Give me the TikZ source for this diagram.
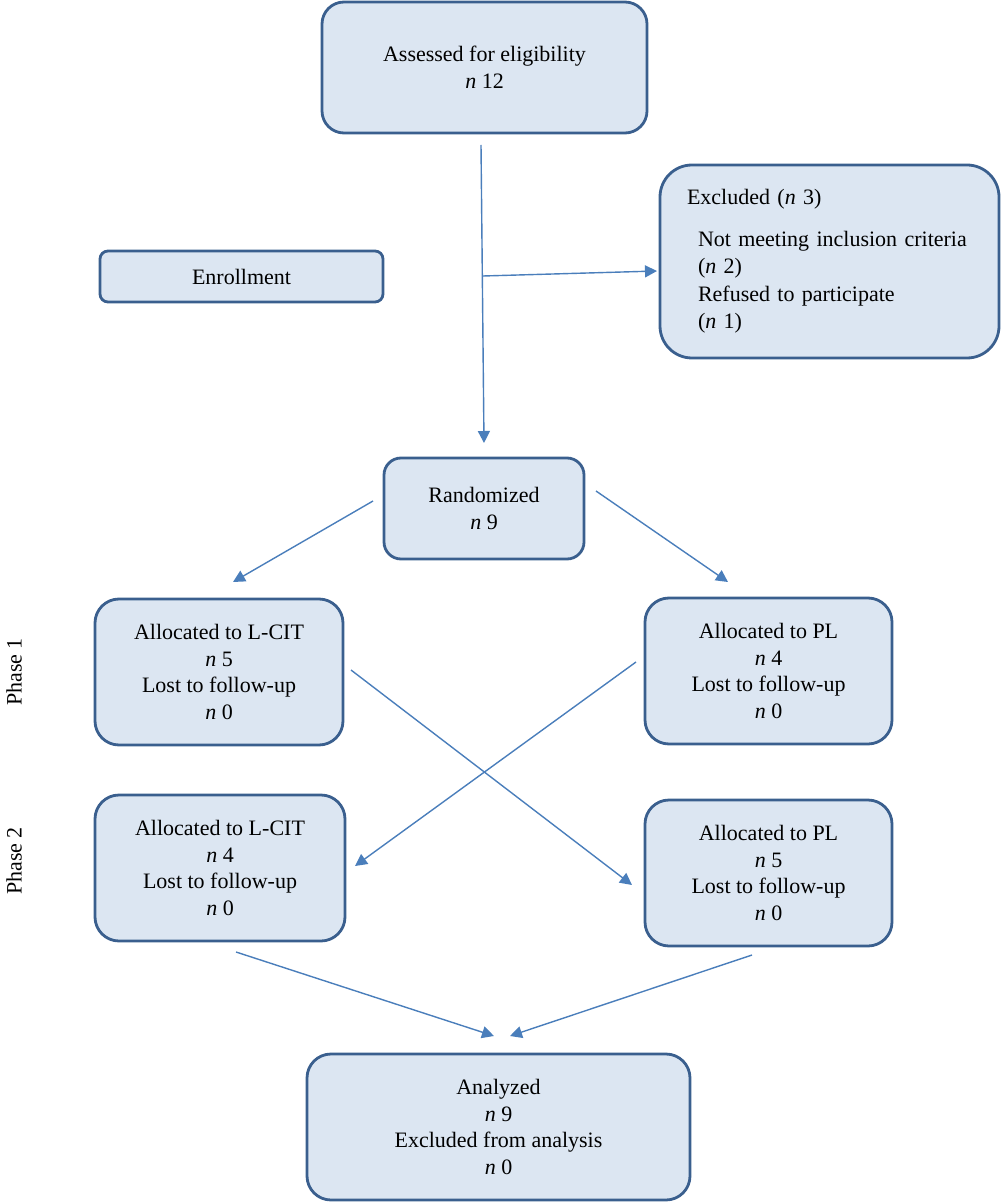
\documentclass[tikz,border=0pt]{standalone}
\usepackage{fontspec}
\setmainfont{Liberation Serif}
\usetikzlibrary{arrows.meta}
\definecolor{boxfill}{HTML}{DCE6F2}
\definecolor{boxline}{HTML}{3A5F8E}
\definecolor{arrowline}{HTML}{4A7EBB}
\tikzset{
  box/.style={draw=boxline,fill=boxfill,line width=1.4pt,align=center,inner sep=0pt,
    font=\fontsize{11}{13.4}\selectfont},
  link/.style={draw=arrowline,line width=0.7pt,-{Triangle[length=6pt,width=6pt]}},
}

\begin{document}
\begin{tikzpicture}[x=0.5pt,y=-0.5pt]
      \useasboundingbox (0,0) rectangle (1001,1203);
      \node[box,minimum width=162.5pt,minimum height=65.5pt,rounded corners=11pt] (assess) at (484.5,67.5) {Assessed for eligibility\\\textit{n} 12};
      \node[box,minimum width=141.5pt,minimum height=25.5pt,rounded corners=4pt] (enroll) at (241.5,276.5) {Enrollment};
      \node[box,minimum width=169.5pt,minimum height=96.5pt,rounded corners=16pt,align=left,text width=142.5pt,
        font=\fontsize{11}{13.8}\selectfont] (excl) at (829.5,261.5)
        {Excluded (\textit{n} 3)\\[7pt]
         \hspace*{5.5pt}Not meeting inclusion criteria\\
         \hspace*{5.5pt}(\textit{n} 2)\\
         \hspace*{5.5pt}Refused to participate\\
         \hspace*{5.5pt}(\textit{n} 1)};
      \node[box,minimum width=100pt,minimum height=50.5pt,rounded corners=8.5pt] (rand) at (484,508.5) {Randomized\\\textit{n} 9};
      %
      \node[box,minimum width=124pt,minimum height=73pt,rounded corners=12pt] (lcit1) at (219,672) {Allocated to L-CIT\\\textit{n} 5\\Lost to follow-up\\\textit{n} 0};
      \node[box,minimum width=123.5pt,minimum height=73pt,rounded corners=12pt] (pl1) at (768.5,671) {Allocated to PL\\\textit{n} 4\\Lost to follow-up\\\textit{n} 0};
      \node[box,minimum width=125pt,minimum height=73pt,rounded corners=12pt] (lcit2) at (220,868) {Allocated to L-CIT\\\textit{n} 4\\Lost to follow-up\\\textit{n} 0};
      \node[box,minimum width=123.5pt,minimum height=73pt,rounded corners=12pt] (pl2) at (768.5,873) {Allocated to PL\\\textit{n} 5\\Lost to follow-up\\\textit{n} 0};
      \node[box,minimum width=191.5pt,minimum height=73pt,rounded corners=12pt] (anal) at (498.5,1127) {Analyzed\\\textit{n} 9\\Excluded from analysis\\\textit{n} 0};
      \node[rotate=90,font=\fontsize{11}{13.4}\selectfont] (phase1) at (14,672) {Phase 1};
      \node[rotate=90,font=\fontsize{11}{13.4}\selectfont] (phase2) at (14,861) {Phase 2};
      %
      \coordinate (assessout) at (481,145);
      \coordinate (randin) at (484,443);
      \coordinate (split) at (483,276);
      \coordinate (exclin) at (657,271);
      \draw[link] (assessout) -- (randin);
      \draw[link] (split) -- (exclin);
      \coordinate (randoutl) at (373,501);
      \coordinate (lcitin1) at (233,582);
      \coordinate (randoutr) at (596,491);
      \coordinate (plin1) at (728,582);
      \draw[link] (randoutl) -- (lcitin1);
      \draw[link] (randoutr) -- (plin1);
      \coordinate (lcitout1) at (351,670);
      \coordinate (plin2) at (632,885);
      \coordinate (plout1) at (636,662);
      \coordinate (lcitin2) at (355,866);
      \draw[link] (lcitout1) -- (plin2);
      \draw[link] (plout1) -- (lcitin2);
      \coordinate (lcitout2) at (236,952);
      \coordinate (analinl) at (494,1036);
      \coordinate (plout2) at (752,955);
      \coordinate (analinr) at (510,1036);
      \draw[link] (lcitout2) -- (analinl);
      \draw[link] (plout2) -- (analinr);
\end{tikzpicture}
\end{document}
